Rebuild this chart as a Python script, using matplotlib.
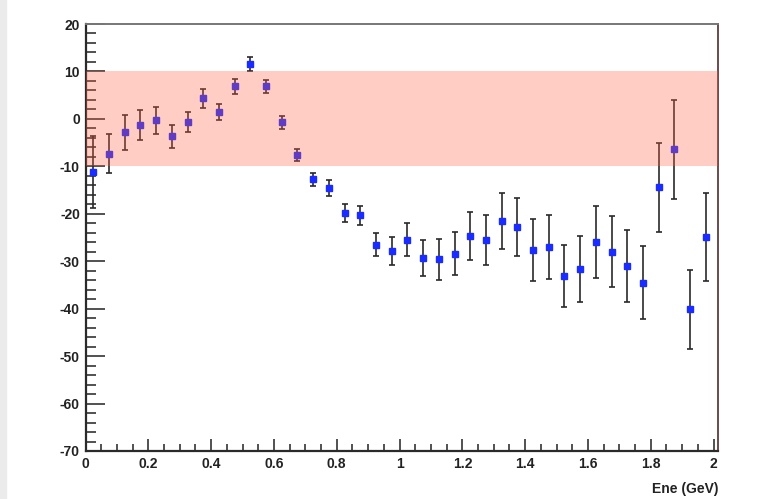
# plot.py
# Energy residuals with a +-10 band, ROOT-like look
import matplotlib
matplotlib.use("Agg")
import matplotlib.pyplot as plt
from matplotlib.ticker import MultipleLocator
import numpy as np

plt.rcParams["axes.unicode_minus"] = False

# bin centres, 40 bins of 0.05 GeV
ene = np.arange(40) * 0.05 + 0.025
vals = [-11.2, -7.3, -2.8, -1.3, -0.3, -3.7, -0.7, 4.3, 1.4, 6.9,
        11.5, 6.9, -0.7, -7.6, -12.7, -14.5, -19.8, -20.3, -26.5, -27.9,
        -25.5, -29.4, -29.6, -28.4, -24.7, -25.5, -21.6, -22.8, -27.6, -27.0,
        -33.1, -31.6, -25.9, -28.0, -31.0, -34.5, -14.4, -6.4, -40.1, -24.9]
errs = [7.6, 4.2, 3.7, 3.2, 2.8, 2.4, 2.1, 1.9, 1.7, 1.6,
        1.5, 1.4, 1.35, 1.3, 1.4, 1.7, 1.9, 2.0, 2.5, 2.9,
        3.5, 3.8, 4.3, 4.6, 5.1, 5.3, 5.9, 6.2, 6.5, 6.75,
        6.6, 6.9, 7.6, 7.5, 7.6, 7.7, 9.4, 10.4, 8.35, 9.2]
band = (-10, 10)

fig = plt.figure(figsize=(7.72, 4.99), dpi=100)
# grey page strip on the left
fig.patches.append(plt.Rectangle((0, 0), 6 / 772, 1, transform=fig.transFigure,
                                 color="#ebebeb", zorder=0))

ax = fig.add_axes([85.5 / 772, 1 - 451 / 499, (718 - 85.5) / 772, (451 - 24) / 499])
ax.errorbar(ene, vals, yerr=errs, fmt="s", color="#1a2cff", ms=5.0, mec="#1a2cff",
            ecolor="#2a2a2a", elinewidth=1.2, capsize=2.2, capthick=1.2, zorder=2)
ax.axhspan(band[0], band[1], color=(1.0, 0.37, 0.25), alpha=0.31, lw=0, zorder=3)

ax.set_xlim(0, 2.014)
ax.set_ylim(-70, 20)
ax.xaxis.set_major_locator(MultipleLocator(0.2))
ax.xaxis.set_minor_locator(MultipleLocator(0.05))
ax.yaxis.set_major_locator(MultipleLocator(10))
ax.yaxis.set_minor_locator(MultipleLocator(2))
ax.set_xticks(np.arange(0, 2.01, 0.2))
ax.set_xticklabels(["0", "0.2", "0.4", "0.6", "0.8", "1", "1.2", "1.4", "1.6", "1.8", "2"])

lab = dict(family="Liberation Sans", weight="bold", size=10)
for t in ax.get_xticklabels() + ax.get_yticklabels():
    t.set_fontproperties(matplotlib.font_manager.FontProperties(**lab))
    t.set_color("#222222")

ax.tick_params(axis="y", which="major", direction="in", length=14, width=1.2, pad=4, colors="#333333", labelcolor="#222222")
ax.tick_params(axis="y", which="minor", direction="in", length=7, width=1.2, colors="#333333")
ax.tick_params(axis="x", which="major", direction="in", length=9, width=1.2, pad=4, colors="#333333", labelcolor="#222222")
ax.tick_params(axis="x", which="minor", direction="in", length=5, width=1.2, colors="#333333")

for s in ["left", "bottom"]:
    ax.spines[s].set_linewidth(1.6)
    ax.spines[s].set_color("#2a2a2a")
ax.spines["top"].set_color("#777777")
ax.spines["top"].set_linewidth(1.4)
ax.spines["right"].set_color("#6a4a4a")
ax.spines["right"].set_linewidth(1.4)

ax.set_xlabel("Ene (GeV)", fontdict=lab, color="#222222", loc="right", labelpad=8)

fig.savefig("out.png", dpi=100)
